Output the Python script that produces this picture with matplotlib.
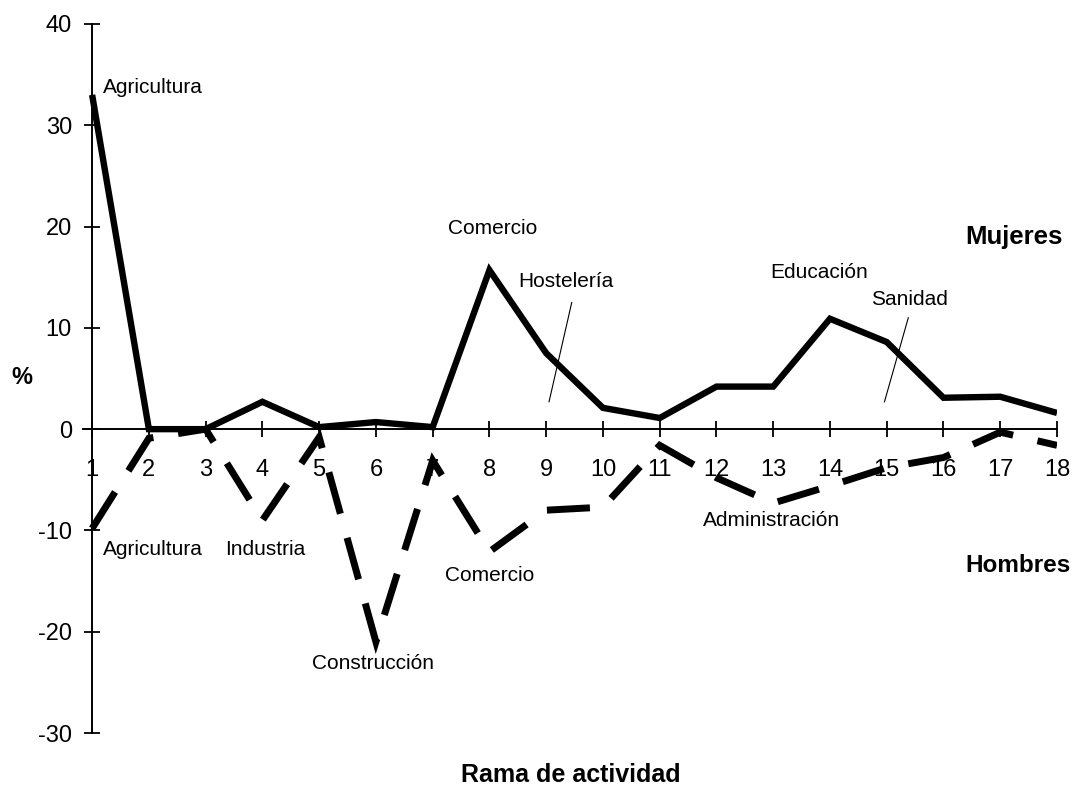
import matplotlib
matplotlib.use("Agg")
import matplotlib.pyplot as plt

plt.rcParams['font.family'] = ['Liberation Sans', 'DejaVu Sans']
plt.rcParams['axes.unicode_minus'] = False

ramas = list(range(1, 19))
mujeres = [33.0, 0.0, 0.0, 2.7, 0.2, 0.7, 0.2, 15.7, 7.5, 2.1, 1.1, 4.2, 4.2, 10.9, 8.6, 3.1, 3.2, 1.6]
hombres = [-9.8, -0.9, 0.0, -9.0, -0.8, -21.0, -3.1, -12.1, -8.0, -7.7, -1.6, -4.8, -7.3, -5.6, -3.8, -2.8, -0.3, -1.6]
yticks = [-30, -20, -10, 0, 10, 20, 30, 40]

# annotation labels: (text, x, y)
etiquetas = [
    ("Agricultura", 1.19, 33.7),
    ("Comercio", 7.27, 19.8),
    ("Hostelería", 8.5, 14.6),
    ("Educación", 12.94, 15.5),
    ("Sanidad", 14.73, 12.8),
    ("Agricultura", 1.19, -11.9),
    ("Industria", 3.34, -11.9),
    ("Construcción", 4.87, -23.1),
    ("Comercio", 7.21, -14.4),
    ("Administración", 11.76, -9.0),
]
guias = [((9.45, 9.05), (12.5, 2.7)), ((15.38, 14.96), (11.0, 2.7))]

fig = plt.figure(figsize=(10.73, 7.86), dpi=100)
ax = fig.add_axes([0.0774, 0.0674, 0.9077, 0.9021])

ax.plot(ramas, mujeres, color='black', lw=4.6, solid_joinstyle='miter', solid_capstyle='butt', zorder=3)
ax.plot(ramas, hombres, color='black', lw=5.0, dashes=(6.2, 3.6), dash_capstyle='butt',
        dash_joinstyle='miter', zorder=3)

ax.set_xlim(0.84, 18.0)
ax.set_ylim(-30, 40)

for s in ['top', 'right']:
    ax.spines[s].set_visible(False)
ax.spines['left'].set_position(('data', 1))
ax.spines['bottom'].set_position(('data', 0))
ax.spines['left'].set_linewidth(1.4)
ax.spines['bottom'].set_linewidth(1.4)

ax.set_xticks(ramas)
ax.set_xticklabels([str(r) for r in ramas])
ax.set_yticks(yticks)
ax.tick_params(axis='x', direction='inout', length=11.5, width=1.3, pad=16, labelsize=17)
ax.tick_params(axis='y', direction='inout', length=11, width=1.3, pad=9, labelsize=17)

for txt, x, y in etiquetas:
    ax.text(x, y, txt, fontsize=15, ha='left', va='center')
for xs, ys in guias:
    ax.plot(xs, ys, color='black', lw=0.8)

ax.text(16.39, 19.0, "Mujeres", fontsize=18.5, fontweight='bold', ha='left', va='center')
ax.text(16.39, -13.5, "Hombres", fontsize=17.5, fontweight='bold', ha='left', va='center')

fig.text(22 / 1073, 1 - 378 / 786, "%", fontsize=17, fontweight='bold', ha='center', va='center')
fig.text(571 / 1073, 1 - 775 / 786, "Rama de actividad", fontsize=18, fontweight='bold', ha='center', va='center')

fig.savefig("out.png", dpi=100)
